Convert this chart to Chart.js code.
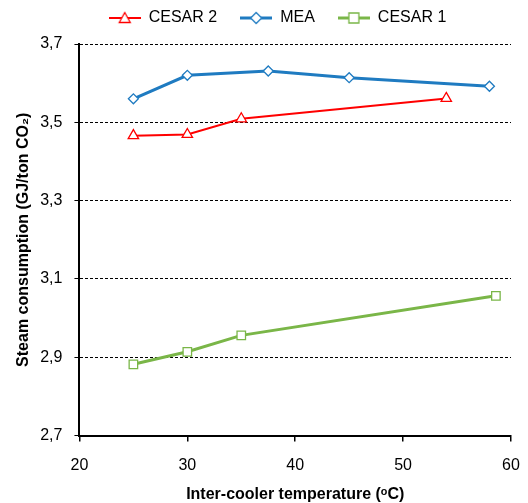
<!DOCTYPE html>
<html>
<head>
<meta charset="utf-8">
<script src="https://cdn.jsdelivr.net/npm/chart.js@4"></script>
<style>
  body { margin: 0; background: #fff; }
  #wrap { width: 528px; height: 503px; }
</style>
</head>
<body>
<div id="wrap"><canvas id="chart"></canvas></div>
<script>
// data
const cesar2X = [25, 30, 35, 54];
const cesar2Y = [3.466, 3.469, 3.509, 3.561];
const meaX = [25, 30, 37.5, 45, 58];
const meaY = [3.560, 3.620, 3.631, 3.614, 3.592];
const cesar1X = [25, 30, 35, 58.6];
const cesar1Y = [2.882, 2.914, 2.956, 3.057];
const xTicks = [20, 30, 40, 50, 60];
const yTicks = [2.7, 2.9, 3.1, 3.3, 3.5, 3.7];

const red = '#ff0000', blue = '#1f7bc1', green = '#7ab648';

function pts(xs, ys) {
    return xs.map((x, i) => ({ x: x, y: ys[i] }));
}

// legend icon: short line with hollow marker
function legendIcon(color, width, style) {
    const c = document.createElement('canvas');
    c.width = 32; c.height = 14;
    const g = c.getContext('2d');
    g.strokeStyle = color;
    g.lineWidth = width;
    g.beginPath(); g.moveTo(0, 7); g.lineTo(32, 7); g.stroke();
    g.lineWidth = 1.3;
    g.fillStyle = '#fff';
    g.beginPath();
    if (style === 'triangle') {
        g.moveTo(16, 1.5); g.lineTo(21.5, 11.5); g.lineTo(10.5, 11.5); g.closePath();
    } else if (style === 'rectRot') {
        g.moveTo(16, 1.5); g.lineTo(21.5, 7); g.lineTo(16, 12.5); g.lineTo(10.5, 7); g.closePath();
    } else {
        g.rect(11, 2, 10, 10);
    }
    g.fill(); g.stroke();
    return c;
}

// extra gap under the legend, and legend nudged right
const legendGap = {
    id: 'legendGap',
    beforeInit(chart) {
        const fit = chart.legend.fit;
        chart.legend.fit = function() {
            fit.bind(chart.legend)();
            this.height += 8;
        };
    },
    afterLayout(chart) {
        chart.legend.left += 15;
        chart.legend.right += 15;
    }
};

const ctx = document.getElementById('chart').getContext('2d');
const chart = new Chart(ctx, {
    type: 'scatter',
    data: {
        datasets: [{
            label: 'CESAR 2',
            data: pts(cesar2X, cesar2Y),
            showLine: true,
            borderColor: red,
            backgroundColor: '#fff',
            borderWidth: 2,
            pointStyle: 'triangle',
            pointRadius: 6,
            pointBorderWidth: 1.3,
            legendIcon: legendIcon(red, 2, 'triangle')
        }, {
            label: 'MEA',
            data: pts(meaX, meaY),
            showLine: true,
            borderColor: blue,
            backgroundColor: '#fff',
            borderWidth: 3,
            pointStyle: 'rectRot',
            pointRadius: 5,
            pointBorderWidth: 1.3,
            legendIcon: legendIcon(blue, 3, 'rectRot')
        }, {
            label: 'CESAR 1',
            data: pts(cesar1X, cesar1Y),
            showLine: true,
            borderColor: green,
            backgroundColor: '#fff',
            borderWidth: 3,
            pointStyle: 'rect',
            pointRadius: 6,
            pointBorderWidth: 1.3,
            legendIcon: legendIcon(green, 3, 'rect')
        }]
    },
    options: {
        responsive: true,
        maintainAspectRatio: false,
        animation: false,
        layout: { padding: { left: 14, right: 17, top: -13, bottom: -1 } },
        plugins: {
            legend: {
                position: 'top',
                labels: {
                    usePointStyle: true,
                    pointStyleWidth: 32,
                    color: '#000',
                    font: { family: 'Liberation Sans', size: 16 },
                    padding: 23,
                    generateLabels: function(chart) {
                        return chart.data.datasets.map((ds, i) => ({
                            text: ds.label,
                            pointStyle: ds.legendIcon,
                            fillStyle: '#fff',
                            strokeStyle: ds.borderColor,
                            lineWidth: 0,
                            fontColor: '#000',
                            datasetIndex: i
                        }));
                    }
                }
            },
            tooltip: { enabled: false }
        },
        scales: {
            x: {
                type: 'linear',
                min: 20,
                max: 60,
                afterBuildTicks: axis => { axis.ticks = xTicks.map(v => ({ value: v })); },
                afterFit: axis => { axis.paddingRight = 10; },
                ticks: {
                    color: '#000',
                    font: { family: 'Liberation Sans', size: 16 },
                    padding: 14
                },
                grid: {
                    display: true,
                    drawOnChartArea: false,
                    drawTicks: true,
                    tickLength: 6,
                    color: '#000',
                    lineWidth: 1.5
                },
                border: { color: '#000', width: 2 },
                title: {
                    display: true,
                    text: 'Inter-cooler temperature (ᵒC)',
                    color: '#000',
                    font: { family: 'Liberation Sans', size: 16, weight: 'bold' },
                    padding: { top: -4, bottom: 0 }
                }
            },
            y: {
                min: 2.7,
                max: 3.7,
                afterBuildTicks: axis => { axis.ticks = yTicks.map(v => ({ value: v })); },
                ticks: {
                    color: '#000',
                    font: { family: 'Liberation Sans', size: 16 },
                    padding: 12,
                    callback: v => v.toFixed(1).replace('.', ',')
                },
                grid: {
                    color: '#000',
                    lineWidth: 1,
                    tickLength: 5,
                    tickBorderDash: [],
                    drawTicks: true
                },
                border: { color: '#000', width: 2, dash: [3, 2] },
                title: {
                    display: true,
                    text: 'Steam consumption (GJ/ton CO₂)',
                    color: '#000',
                    font: { family: 'Liberation Sans', size: 16, weight: 'bold' },
                    padding: { top: 0, bottom: -5 }
                }
            }
        }
    },
    plugins: [legendGap]
});
</script>
</body>
</html>
